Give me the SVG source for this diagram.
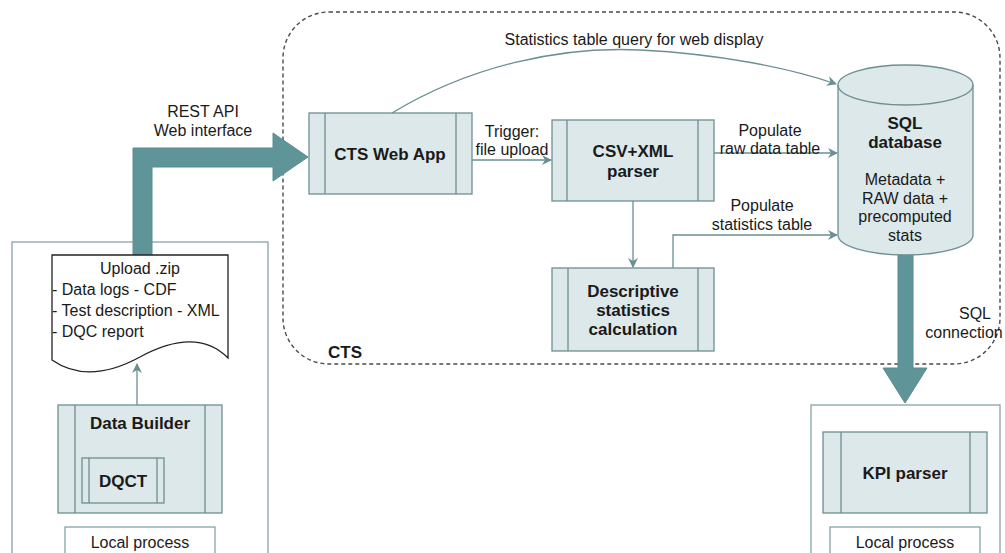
<svg xmlns="http://www.w3.org/2000/svg" width="1005" height="553" viewBox="0 0 1005 553">
  <defs>
    <style>
      text { font-family: "Liberation Sans", Arial, sans-serif; font-size: 16px; fill: #1a1a1a; }
      .b { font-weight: bold; font-size: 17px; }
      .proc { fill: #dce8e9; stroke: #6e8f92; stroke-width: 1.3; }
      .div { stroke: #6e8f92; stroke-width: 1.3; fill: none; }
      .frame { fill: none; stroke: #7d9c9e; stroke-width: 1.2; }
      .edge { fill: none; stroke: #6b8f92; stroke-width: 1.3; }
      .fat { fill: #5f9598; stroke: #5a8d90; stroke-width: 1; }
    </style>
    <marker id="arr" viewBox="0 0 10 10" refX="9" refY="5" markerWidth="10" markerHeight="10" markerUnits="userSpaceOnUse" orient="auto">
      <path d="M0,0 L10,5 L0,10 L3,5 Z" fill="#6b8f92"/>
    </marker>
  </defs>

  <rect width="1005" height="553" fill="#ffffff"/>

  <!-- CTS boundary -->
  <g id="cts">
    <rect x="283" y="12" width="717" height="352" rx="46" ry="46" fill="none" stroke="#4a4a4a" stroke-width="1.4" stroke-dasharray="4 3"/>
    <text class="b" x="328" y="358" font-size="18">CTS</text>
  </g>

  <!-- local process frames -->
  <g id="local-left">
    <rect class="frame" x="12" y="242" width="256" height="320"/>
    <rect class="frame" x="65" y="527" width="150" height="40"/>
    <text x="140" y="548" text-anchor="middle">Local process</text>
  </g>
  <g id="local-right">
    <rect class="frame" x="811" y="405" width="189" height="160"/>
    <rect class="frame" x="830" y="527" width="150" height="40"/>
    <text x="905" y="548" text-anchor="middle">Local process</text>
  </g>

  <!-- connectors -->
  <g id="connectors">
    <!-- REST upload (thick) -->
    <path class="fat" d="M133,255 V148 H273 V133 L308,157 L273,181 V167 H152 V255 Z"/>
    <!-- SQL connection (thick) -->
    <path class="fat" d="M898,254 H913 V368 H927 L905,403 L883,368 H898 Z"/>
    <!-- data builder to upload -->
    <path class="edge" d="M137,405 V364" marker-end="url(#arr)"/>
    <!-- trigger -->
    <path class="edge" d="M472,160 H551" marker-end="url(#arr)"/>
    <!-- parser to stats calc -->
    <path class="edge" d="M633,201 V267" marker-end="url(#arr)"/>
    <!-- raw table -->
    <path class="edge" d="M714,153 H837" marker-end="url(#arr)"/>
    <!-- stats table -->
    <path class="edge" d="M673,268 V235 H837" marker-end="url(#arr)"/>
    <!-- web query -->
    <path class="edge" d="M392,113 C470,66 560,46 640,50 C720,54 790,68 836,84" marker-end="url(#arr)"/>

    <text x="203" y="117" text-anchor="middle">REST API</text>
    <text x="203" y="136" text-anchor="middle">Web interface</text>
    <text x="512" y="137" text-anchor="middle">Trigger:</text>
    <text x="512" y="155" text-anchor="middle">file upload</text>
    <text x="770" y="136" text-anchor="middle">Populate</text>
    <text x="770" y="154" text-anchor="middle">raw data table</text>
    <text x="762" y="211" text-anchor="middle">Populate</text>
    <text x="762" y="230" text-anchor="middle">statistics table</text>
    <text x="634" y="45" text-anchor="middle">Statistics table query for web display</text>
    <text x="975" y="319" text-anchor="middle">SQL</text>
    <text x="964" y="338" text-anchor="middle">connection</text>
  </g>

  <!-- upload package document -->
  <g id="upload-doc">
    <path d="M52,255 H228 V358 C205,335 175,338 140,357 C105,376 75,376 52,360 Z" fill="#ffffff" stroke="#222222" stroke-width="1.3"/>
    <text x="140" y="274" text-anchor="middle">Upload .zip</text>
    <text x="52" y="295">- Data logs - CDF</text>
    <text x="52" y="316">- Test description - XML</text>
    <text x="52" y="337">- DQC report</text>
  </g>

  <g id="data-builder">
    <rect class="proc" x="58" y="405" width="164" height="108"/>
    <path class="div" d="M75,405 V513 M205,405 V513"/>
    <text class="b" x="140" y="429" text-anchor="middle">Data Builder</text>
  </g>

  <g id="dqct">
    <rect class="proc" x="82" y="458" width="82" height="45"/>
    <path class="div" d="M89,458 V503 M157,458 V503"/>
    <text class="b" x="123" y="487" text-anchor="middle">DQCT</text>
  </g>

  <g id="cts-web-app">
    <rect class="proc" x="309" y="113" width="163" height="81"/>
    <path class="div" d="M325,113 V194 M456,113 V194"/>
    <text class="b" x="390" y="160" text-anchor="middle">CTS Web App</text>
  </g>

  <g id="csv-xml-parser">
    <rect class="proc" x="552" y="120" width="162" height="81"/>
    <path class="div" d="M567,120 V201 M698,120 V201"/>
    <text class="b" x="633" y="157" text-anchor="middle">CSV+XML</text>
    <text class="b" x="633" y="177" text-anchor="middle">parser</text>
  </g>

  <g id="stats-calc">
    <rect class="proc" x="552" y="268" width="162" height="83"/>
    <path class="div" d="M568,268 V351 M698,268 V351"/>
    <text class="b" x="633" y="297" text-anchor="middle">Descriptive</text>
    <text class="b" x="633" y="316" text-anchor="middle">statistics</text>
    <text class="b" x="633" y="335" text-anchor="middle">calculation</text>
  </g>

  <g id="sql-database">
    <path class="proc" d="M838,85 A67.5,20 0 0 1 973,85 V235 A67.5,20 0 0 1 838,235 Z"/>
    <path class="div" d="M838,85 A67.5,20 0 0 0 973,85"/>
    <text class="b" x="905" y="129" text-anchor="middle" font-size="16">SQL</text>
    <text class="b" x="905" y="148" text-anchor="middle" font-size="16">database</text>
    <text x="905" y="185" text-anchor="middle">Metadata +</text>
    <text x="905" y="204" text-anchor="middle">RAW data +</text>
    <text x="905" y="222" text-anchor="middle">precomputed</text>
    <text x="905" y="241" text-anchor="middle">stats</text>
  </g>

  <g id="kpi-parser">
    <rect class="proc" x="823" y="432" width="164" height="81"/>
    <path class="div" d="M841,432 V513 M970,432 V513"/>
    <text class="b" x="905" y="479" text-anchor="middle">KPI parser</text>
  </g>
</svg>
